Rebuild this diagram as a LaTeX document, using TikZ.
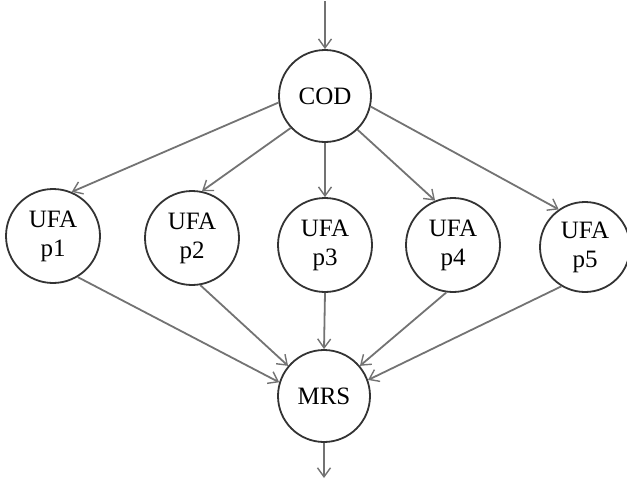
\documentclass[tikz,border=0pt]{standalone}
\usepackage{fontspec}
\setmainfont{Liberation Serif}
\usetikzlibrary{arrows.meta}
\tikzset{
  state/.style={circle, draw=black!80, line width=1.8pt, minimum size=92pt, inner sep=0pt,
    align=center, font=\fontsize{25}{29}\selectfont},
  conn/.style={draw=black!55, line width=1.8pt, -{Straight Barb[length=9pt,width=13pt,line width=1.4pt]}}
}
\begin{document}
\begin{tikzpicture}[x=1pt,y=-1pt]
\useasboundingbox (0,0) rectangle (627,479);
\coordinate (in) at (325,1);
\node[state] (cod) at (325,96) {COD};
\node[state, minimum size=94pt] (p1) at (53,236) {UFA\\p1};
\node[state, minimum size=94pt] (p2) at (192,238) {UFA\\p2};
\node[state, minimum size=94pt] (p3) at (325,245) {UFA\\p3};
\node[state, minimum size=94pt] (p4) at (453,245) {UFA\\p4};
\node[state, minimum size=90pt] (p5) at (585,247) {UFA\\p5};
\node[state] (mrs) at (324,396) {MRS};
\coordinate (out) at (324,478);
\draw[conn] (in) -- (cod.north);
\draw[conn] (cod.188) -- (p1.67);
\draw[conn] (cod.223) -- (p2.78);
\draw[conn] (cod.270) -- (p3.90);
\draw[conn] (cod.314) -- (p4.112);
\draw[conn] (cod.347) -- (p5.125);
\draw[conn] (p1.301) -- (mrs.163);
\draw[conn] (p2.280) -- (mrs.140);
\draw[conn] (p3.270) -- (mrs.90);
\draw[conn] (p4.262) -- (mrs.40);
\draw[conn] (p5.239) -- (mrs.20);
\draw[conn] (mrs.south) -- (out);
\end{tikzpicture}
\end{document}
